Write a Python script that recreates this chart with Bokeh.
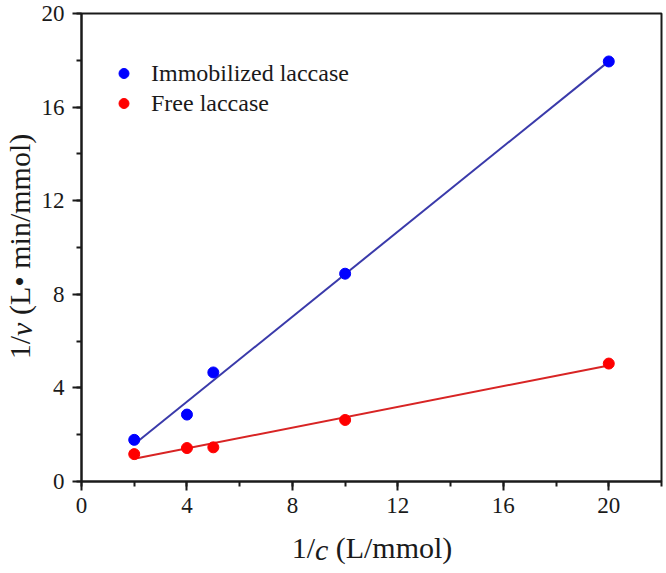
import numpy as np
from bokeh.plotting import figure
from bokeh.models import (Range1d, SingleIntervalTicker, FixedTicker, LinearAxis,
                          CustomJSTickFormatter, Legend, LegendItem)
from bokeh.embed import file_html
from bokeh.resources import INLINE

# ---- data ----
inv_c = [2, 4, 5, 10, 20]
inv_v_immobilized = [1.78, 2.86, 4.66, 8.88, 17.95]
inv_v_free = [1.17, 1.43, 1.46, 2.63, 5.04]
series_names = ["Immobilized laccase", "Free laccase"]
point_colors = ["#0000ff", "#ff0000"]
line_colors = ["#3a3aaa", "#d82424"]
tick_interval = 4
x_title_parts = ["1/", "c", "(L/mmol)"]            # middle part italic
y_title_parts = ["1/", "v", "(L\u2022 min/mmol)"]  # middle part italic

W, H = 666, 573
FONT = "Liberation Serif"
INK = "#1a1a1a"
X_END, Y_END = 22, 20
BL, BR, BT, BB = 80, 5, 13, 92

p = figure(width=W, height=H, output_backend="svg", toolbar_location=None,
           x_range=Range1d(0, X_END), y_range=Range1d(0, Y_END),
           min_border_left=BL, min_border_right=BR, min_border_top=BT,
           min_border_bottom=BB, title=None)
p.grid.visible = False
p.outline_line_color = INK
p.outline_line_width = 2
p.background_fill_color = "white"
p.border_fill_color = "white"

for ax, standoff in ((p.xaxis[0], 7), (p.yaxis[0], 8)):
    ax.ticker = SingleIntervalTicker(interval=tick_interval, num_minor_ticks=2)
    ax.axis_line_width = 2
    ax.axis_line_color = INK
    ax.major_tick_in = 0
    ax.major_tick_out = 9
    ax.minor_tick_in = 0
    ax.minor_tick_out = 5
    ax.major_tick_line_width = 2
    ax.minor_tick_line_width = 2
    ax.major_tick_line_color = INK
    ax.minor_tick_line_color = INK
    ax.major_label_text_font = FONT
    ax.major_label_text_font_size = "23px"
    ax.major_label_text_color = INK
    ax.major_label_standoff = standoff

renderers = []
xs = np.array(inv_c, dtype=float)
xfit = np.array([xs.min(), xs.max()])
for ys, pc, lc in zip((inv_v_immobilized, inv_v_free), point_colors, line_colors):
    k, b = np.polyfit(xs, np.array(ys), 1)
    p.line(xfit, k * xfit + b, line_color=lc, line_width=2)
    r = p.scatter(inv_c, ys, size=11, fill_color=pc, line_color=pc)
    renderers.append(r)

legend = Legend(items=[LegendItem(label=n, renderers=[r]) for n, r in zip(series_names, renderers)],
                location=(30, 363), orientation="vertical", padding=0, margin=0, spacing=0,
                border_line_color=None, background_fill_alpha=0,
                glyph_width=25, glyph_height=30, label_height=30, label_standoff=15,
                label_text_font=FONT, label_text_font_size="24px", label_text_color=INK,
                label_text_baseline="middle")
p.add_layout(legend)

# ---- axis titles with an italic variable: extra tick-label-only axes ----
FS = 30
EXTH, EXTV = 34, 38  # label extents (px) of 30px text, horizontal / vertical
w_first, w_it, w_sp = 0.778 * FS, 0.444 * FS, 0.25 * FS
def part_centers(last_em):
    total = w_first + w_it + w_sp + last_em * FS
    c = [w_first / 2, w_first + w_it / 2, w_first + w_it + w_sp + last_em * FS / 2]
    return total, c

frame_w = W - BL - BR
frame_h = H - BT - BB
px_x = frame_w / X_END
px_y = frame_h / Y_END

def title_axis(positions, texts, italic, standoff, orientation):
    return LinearAxis(ticker=FixedTicker(ticks=positions, minor_ticks=[]),
                      formatter=CustomJSTickFormatter(args=dict(labels=texts), code="return labels[index]"),
                      axis_line_color=None, major_tick_line_color=None, minor_tick_line_color=None,
                      major_tick_in=0, major_tick_out=0, minor_tick_in=0, minor_tick_out=0,
                      major_label_standoff=standoff, major_label_text_font=FONT,
                      major_label_text_font_size=f"{FS}px", major_label_text_color=INK,
                      major_label_text_font_style="italic" if italic else "normal",
                      major_label_orientation=orientation)

# x title, centred on x = 371 px
tot, cen = part_centers(3.889)
start = 371 - BL - tot / 2
xpos = [(start + c) / px_x for c in cen]
p.add_layout(title_axis([xpos[0], xpos[2]], [x_title_parts[0], x_title_parts[2]],
                        False, 15, "horizontal"), "below")
p.add_layout(title_axis([xpos[1]], [x_title_parts[1]], True, -EXTH, "horizontal"), "below")

# y title, centred on y = 246 px (from top)
tot, cen = part_centers(6.045)
start_from_bottom = (H - BB) - 246 - tot / 2
ypos = [(start_from_bottom + c) / px_y for c in cen]
p.add_layout(title_axis([ypos[0], ypos[2]], [y_title_parts[0], y_title_parts[2]],
                        False, 2, "vertical"), "left")
p.add_layout(title_axis([ypos[1]], [y_title_parts[1]], True, -EXTV, "vertical"), "left")

open("out.html", "w").write(file_html(p, INLINE))
